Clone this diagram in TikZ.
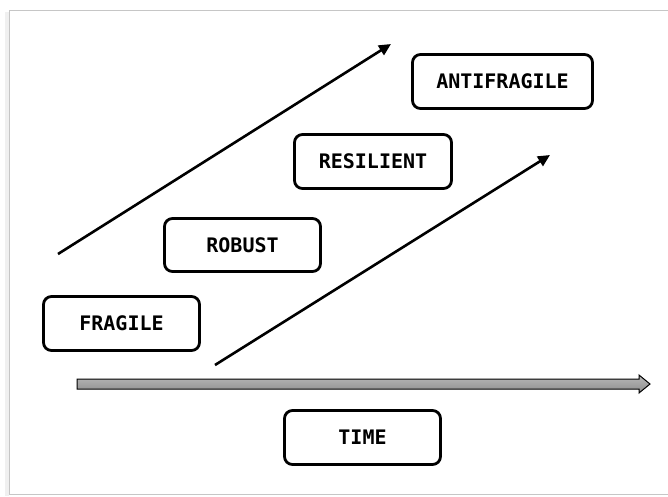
\documentclass[tikz,border=0pt]{standalone}
\usepackage{fontspec}
\setmonofont{DejaVu Sans Mono}
\usetikzlibrary{arrows.meta,shadows}
\begin{document}
\begin{tikzpicture}[x=1pt,y=-1pt,
  label box/.style={draw=black, line width=2.8pt, rounded corners=8pt, fill=white,
    font=\fontsize{20}{22}\selectfont\ttfamily\bfseries, inner sep=0pt},
  trend/.style={line width=2.6pt, -{Triangle[length=12pt,width=11pt]}}]
\useasboundingbox (0,0) rectangle (668,496);
% page frame
\fill[gray!12] (5,12) rectangle (9,496);
\draw[gray!45, line width=1pt] (668,10) -- (9,10) -- (9,494) -- (668,494);
% boxes
\node[label box, minimum width=180pt, minimum height=54pt] (anti) at (502.5,81.5) {ANTIFRAGILE};
\node[label box, minimum width=157pt, minimum height=54pt] (resil) at (373,161.5) {RESILIENT};
\node[label box, minimum width=156pt, minimum height=53pt] (robust) at (242.5,245) {ROBUST};
\node[label box, minimum width=156pt, minimum height=54pt] (fragile) at (121.5,323.5) {FRAGILE};
\node[label box, minimum width=156pt, minimum height=54pt] (time) at (362.5,437.5) {TIME};
% trend arrows
\coordinate (a1s) at (58,254);
\coordinate (a1e) at (391,44);
\coordinate (a2s) at (215,365);
\coordinate (a2e) at (550,155);
\draw[trend] (a1s) -- (a1e);
\draw[trend] (a2s) -- (a2e);
% time axis
\shade[top color=gray!55, bottom color=gray!90, draw=black, line width=1pt]
  (77,379) -- (639,379) -- (639,375) -- (650,384) -- (639,393) -- (639,389) -- (77,389) -- cycle;
\end{tikzpicture}
\end{document}
